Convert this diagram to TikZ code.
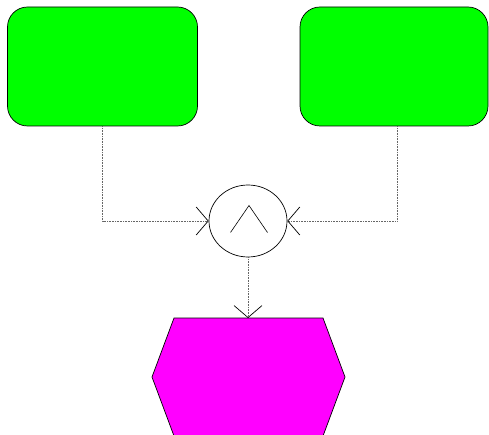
\documentclass[tikz,border=0pt]{standalone}
\usetikzlibrary{shapes.geometric,arrows.meta}
\begin{document}
\begin{tikzpicture}[x=1pt,y=-1pt,
  box/.style={draw=black,line width=0.7pt,fill={rgb,255:red,0;green,255;blue,0},rounded corners=20pt,minimum width=190pt,minimum height=119pt,inner sep=0pt},
  gate/.style={draw=black,line width=0.7pt,ellipse,minimum width=78pt,minimum height=72pt,inner sep=0pt},
  conn/.style={draw=black!60,line width=0.6pt,densely dotted,-{Straight Barb[length=12pt,width=28pt,color=black,line width=0.7pt]}}]
\clip (0,0) rectangle (489,435);
\useasboundingbox (0,0) rectangle (489,435);
\node[box] (lb) at (102.5,66.5) {};
\node[box,minimum width=188pt] (rb) at (394,66.5) {};
\node[gate] (g) at (248,221) {};
\draw[line width=0.6pt] (230.5,232.5) -- (249,205.5) -- (267.5,232.5);
\coordinate (hx) at (248,318);
\draw[line width=0.7pt,fill={rgb,255:red,255;green,0;blue,255}]
  (174,318) -- (323,318) -- (345,377) -- (323,436) -- (174,436) -- (152,377) -- cycle;
\draw[conn] (lb.south) |- (g.west);
\draw[conn] ([xshift=3pt]rb.south) |- (g.east);
\draw[conn] (g.south) -- (hx);
\end{tikzpicture}
\end{document}
